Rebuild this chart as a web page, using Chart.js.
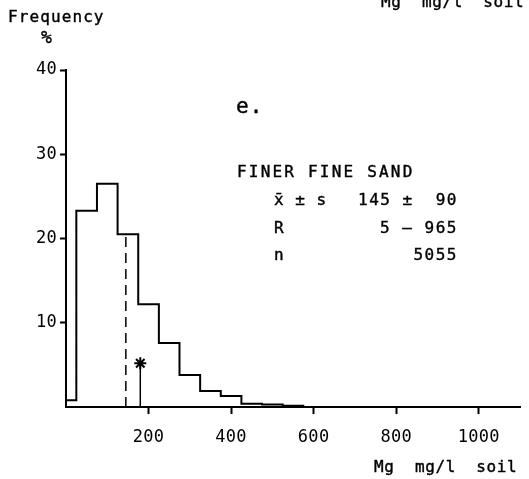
<!DOCTYPE html>
<html>
<head>
<meta charset="utf-8">
<script src="https://cdn.jsdelivr.net/npm/chart.js@4.4.0/dist/chart.umd.min.js"></script>
<style>
  body { margin: 0; background: #fff; }
  canvas { display: block; }
</style>
</head>
<body>
<canvas id="myChart" width="529" height="479"></canvas>
<script>
// histogram bins (Mg mg/l soil) and frequency %
var binEdges = [0, 25, 75, 125, 175, 225, 275, 325, 375, 425, 475, 525, 575];
var binFreq = [0.8, 23.3, 26.5, 20.5, 12.2, 7.6, 3.8, 1.9, 1.3, 0.4, 0.3, 0.15];
var xTicks = [200, 400, 600, 800, 1000];
var yTicks = [10, 20, 30, 40];
var meanValue = 145;
var starValue = 180;
var starHeight = 5.2;

var FONT = '"DejaVu Sans Mono", monospace';

// outline of the histogram
var histPoints = [{x: binEdges[0], y: 0}];
for (var i = 0; i < binFreq.length; i++) {
  histPoints.push({x: binEdges[i], y: binFreq[i]});
}
histPoints.push({x: binEdges[binEdges.length - 1], y: 0});

// dashed line at the mean goes up to the bar top
var meanTop = 0;
for (var j = 0; j < binFreq.length; j++) {
  if (meanValue >= binEdges[j] && meanValue < binEdges[j + 1]) meanTop = binFreq[j];
}

var textPlugin = {
  id: 'texts',
  beforeDraw: function(chart) {
    chart.ctx.letterSpacing = '0.3px';
  },
  afterDraw: function(chart) {
    var c = chart.ctx;
    c.save();
    c.fillStyle = '#000';
    c.strokeStyle = '#000';
    c.lineWidth = 0.4;
    c.textBaseline = 'alphabetic';
    function t(str, x, y, font, sp, align) {
      c.font = font + ' ' + FONT;
      c.letterSpacing = sp + 'px';
      c.textAlign = align || 'left';
      c.fillText(str, x, y);
      c.strokeText(str, x, y);
    }
    t('Frequency', 8, 22, '16px', 1.1);
    t('%', 41, 43, '18px', 0);
    t('Mg  mg/l  soil', 381, 7, '16px', 0.6);
    t('Mg  mg/l  soil', 374, 472, '16px', 0.6);
    t('e.', 236, 113, '21px', 1);
    t('FINER FINE SAND', 237, 177, '16px', 2.2);
    t('x\u0304 \u00b1 s', 274, 205, '16px', 1);
    t('145 \u00b1', 358, 205, '16px', 1.5);
    t('90', 458, 205, '16px', 1.5, 'right');
    t('R', 274, 233, '16px', 1);
    t('5 \u2013', 380, 233, '16px', 1.5);
    t('965', 458, 233, '16px', 1.5, 'right');
    t('n', 274, 260, '16px', 1);
    t('5055', 458, 260, '16px', 1.5, 'right');
    c.restore();
  }
};

var ctx = document.getElementById('myChart').getContext('2d');
var chart = new Chart(ctx, {
  type: 'scatter',
  data: {
    datasets: [{
      data: histPoints,
      showLine: true,
      stepped: 'before',
      borderColor: '#000',
      borderWidth: 2,
      pointRadius: 0
    }, {
      data: [{x: meanValue, y: 0}, {x: meanValue, y: meanTop}],
      showLine: true,
      borderColor: '#000',
      borderWidth: 1.5,
      borderDash: [10, 6],
      pointRadius: 0
    }, {
      data: [{x: starValue, y: 0}, {x: starValue, y: starHeight}],
      showLine: true,
      borderColor: '#000',
      borderWidth: 1.5,
      pointRadius: [0, 6],
      pointStyle: 'star',
      pointBorderColor: '#000',
      pointBorderWidth: 2
    }]
  },
  options: {
    responsive: false,
    animation: false,
    devicePixelRatio: 1,
    layout: { padding: { top: 70, right: 9, left: 0, bottom: 0 } },
    plugins: { legend: { display: false }, tooltip: { enabled: false } },
    scales: {
      x: {
        type: 'linear',
        min: 0,
        max: 1100,
        afterBuildTicks: function(scale) {
          scale.ticks = xTicks.map(function(v) { return {value: v}; });
        },
        afterFit: function(scale) { scale.height = 72; },
        border: { display: true, color: '#000', width: 2 },
        grid: { drawOnChartArea: false, drawTicks: true, tickLength: 7, tickColor: '#000', tickWidth: 2 },
        ticks: {
          color: '#000', font: { family: FONT, size: 17 }, padding: 13, maxRotation: 0,
          callback: function(v) { return String(v); }
        }
      },
      y: {
        min: 0,
        max: 40,
        afterBuildTicks: function(scale) {
          scale.ticks = yTicks.map(function(v) { return {value: v}; });
        },
        afterFit: function(scale) { scale.width = 66; },
        border: { display: true, color: '#000', width: 2 },
        grid: { drawOnChartArea: false, drawTicks: true, tickLength: 6, tickColor: '#000', tickWidth: 2 },
        ticks: {
          color: '#000', font: { family: FONT, size: 17 }, padding: 3,
          callback: function(v) { return String(v); }
        }
      }
    }
  },
  plugins: [textPlugin]
});
</script>
</body>
</html>
